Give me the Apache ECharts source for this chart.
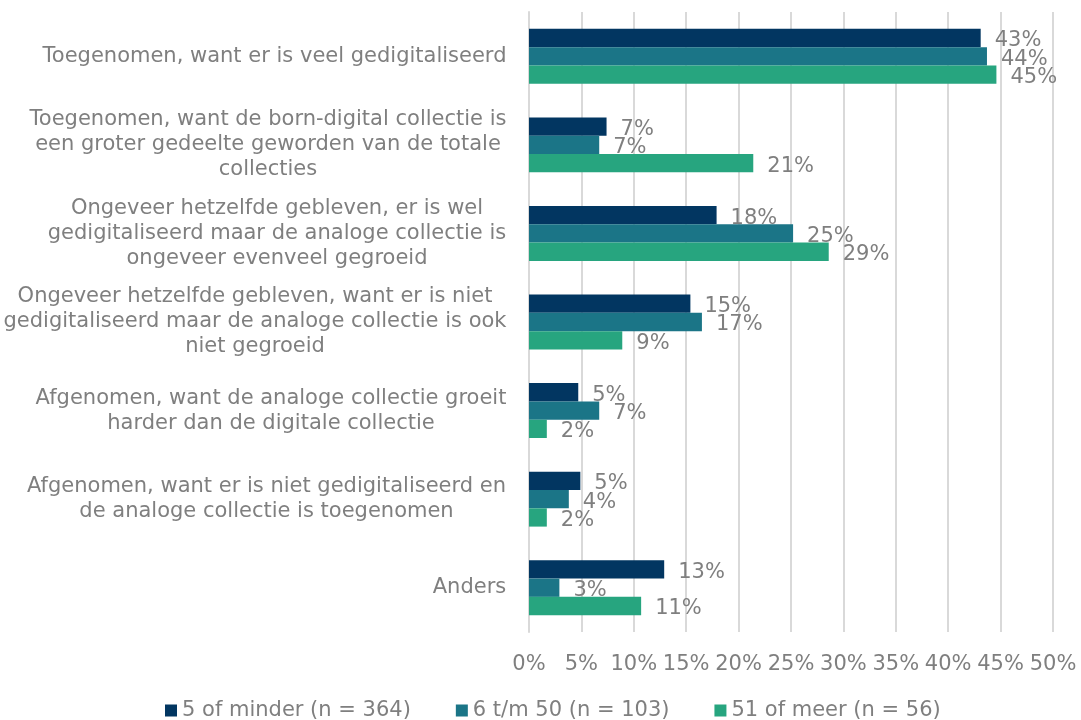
<!DOCTYPE html>
<html>
<head>
<meta charset="utf-8">
<script src="https://cdn.jsdelivr.net/npm/echarts@6/dist/echarts.min.js"></script>
<style>
  html, body { margin: 0; padding: 0; background: #fff; }
  #chart { width: 1081px; height: 720px; }
</style>
</head>
<body>
<div id="chart"></div>
<script>
var categories = [
  'Toegenomen, want er is veel gedigitaliseerd',
  'Toegenomen, want de born-digital collectie is\neen groter gedeelte geworden van de totale\ncollecties',
  'Ongeveer hetzelfde gebleven, er is wel\ngedigitaliseerd maar de analoge collectie is\nongeveer evenveel gegroeid',
  'Ongeveer hetzelfde gebleven, want er is niet\ngedigitaliseerd maar de analoge collectie is ook\nniet gegroeid',
  'Afgenomen, want de analoge collectie groeit\nharder dan de digitale collectie',
  'Afgenomen, want er is niet gedigitaliseerd en\nde analoge collectie is toegenomen',
  'Anders'
]
var seriesNames = ['5 of minder (n = 364)', '6 t/m 50 (n = 103)', '51 of meer (n = 56)']
var small = [43.1, 7.4, 17.9, 15.4, 4.7, 4.9, 12.9]
var medium = [43.7, 6.7, 25.2, 16.5, 6.7, 3.8, 2.9]
var large = [44.6, 21.4, 28.6, 8.9, 1.7, 1.7, 10.7]
var xTicks = [0, 50, 5]

var FONT = 'DejaVu Sans, Verdana, sans-serif'
var FS = 21
var GRAY = '#7f7f7f'
var colors = ['#023661', '#1b7587', '#27a57f']

// centre the lines of each label inside a right aligned block
var ctx = document.createElement('canvas').getContext('2d')
ctx.font = FS + 'px ' + FONT
var rich = {}
categories.forEach(function (c, i) {
  var w = 0
  c.split('\n').forEach(function (line) {
    w = Math.max(w, ctx.measureText(line).width)
  })
  rich['c' + i] = { width: Math.ceil(w) + 1, align: 'center', fontSize: FS, fontFamily: FONT, color: GRAY, lineHeight: 25 }
})

var chart = echarts.init(document.getElementById('chart'))
var makeSeries = function (idx, data) {
  return {
    name: seriesNames[idx],
    type: 'bar',
    data: data,
    barGap: '0%',
    barCategoryGap: '38%',
    itemStyle: { color: colors[idx] },
    label: {
      show: true,
      position: 'right',
      distance: 14,
      offset: [0, 3],
      color: GRAY,
      fontSize: FS,
      fontFamily: FONT,
      formatter: function (p) { return Math.round(p.value) + '%' }
    }
  }
}
chart.setOption({
  animation: false,
  textStyle: { fontFamily: FONT },
  grid: { left: 529, right: 28, top: 12, bottom: 88, containLabel: false },
  legend: {
    bottom: -6,
    left: 160,
    icon: 'rect',
    itemWidth: 12,
    itemHeight: 12,
    itemGap: 45,
    textStyle: { color: GRAY, fontSize: FS, fontFamily: FONT }
  },
  xAxis: {
    type: 'value',
    min: xTicks[0],
    max: xTicks[1],
    interval: xTicks[2],
    axisLine: { show: false },
    axisTick: { show: false },
    splitLine: { lineStyle: { color: '#d9d9d9', width: 2 } },
    axisLabel: {
      color: GRAY,
      fontSize: FS,
      fontFamily: FONT,
      margin: 22,
      hideOverlap: false,
      formatter: function (v) { return v + '%' }
    }
  },
  yAxis: {
    type: 'category',
    inverse: true,
    data: categories,
    axisTick: { show: false },
    axisLine: { lineStyle: { color: '#d9d9d9', width: 2 } },
    axisLabel: {
      margin: 22,
      formatter: function (v, i) {
        return v.split('\n').map(function (line) { return '{c' + i + '|' + line + '}' }).join('\n')
      },
      rich: rich
    }
  },
  series: [makeSeries(0, small), makeSeries(1, medium), makeSeries(2, large)]
})
</script>
</body>
</html>
